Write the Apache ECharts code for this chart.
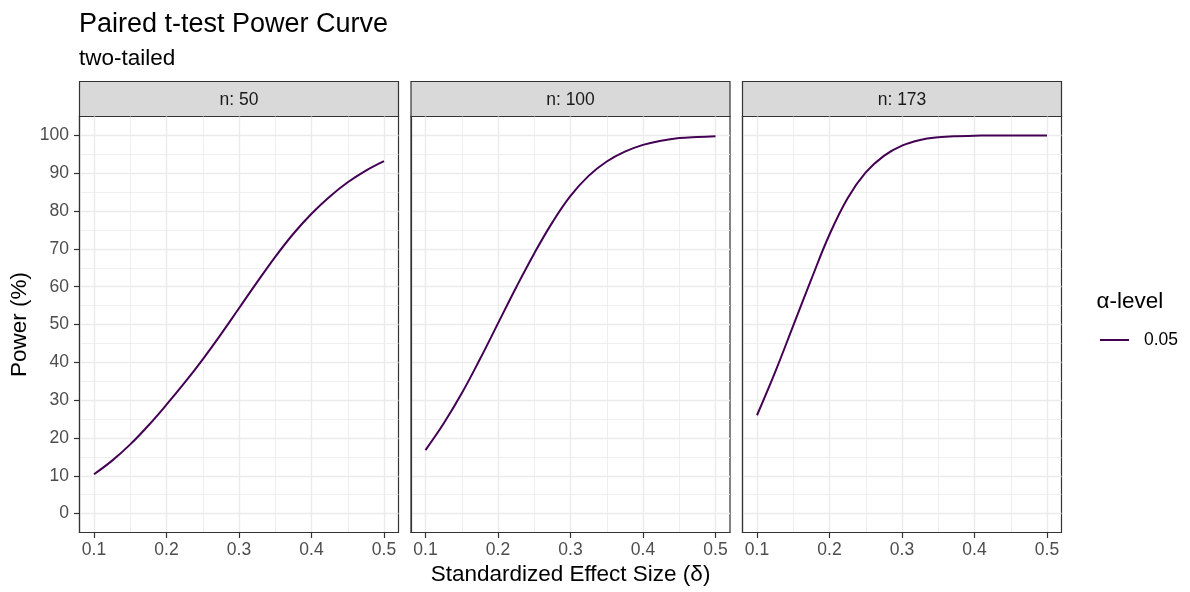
<!DOCTYPE html>
<html>
<head>
<meta charset="utf-8">
<title>Paired t-test Power Curve</title>
<script src="https://cdn.jsdelivr.net/npm/echarts@6/dist/echarts.min.js"></script>
<style>
  html, body { margin: 0; padding: 0; background: #fff; }
  #main { width: 1190px; height: 592px; }
</style>
</head>
<body>
<div id="main"></div>
<script>
// values
const effectSize = [0.1, 0.125, 0.15, 0.175, 0.2, 0.225, 0.25, 0.275, 0.3,
                    0.325, 0.35, 0.375, 0.4, 0.425, 0.45, 0.475, 0.5];
const panelLabels = ['n: 50', 'n: 100', 'n: 173'];
const power_n50  = [10.4, 14.0, 18.3, 23.3, 28.8, 34.6, 40.8, 47.4, 54.3,
                    61.2, 67.9, 74.0, 79.3, 83.8, 87.6, 90.7, 93.2];
const power_n100 = [16.8, 23.8, 31.8, 40.8, 50.3, 59.8, 68.8, 77.0, 84.0,
                    89.3, 93.1, 95.7, 97.5, 98.6, 99.3, 99.6, 99.8];
const power_n173 = [26.0, 37.4, 49.7, 62.0, 73.8, 83.4, 90.2, 94.6, 97.3,
                    98.8, 99.5, 99.8, 99.9, 100, 100, 100, 100];
const xTicks = [0.1, 0.2, 0.3, 0.4, 0.5];
const xMinor = [0.15, 0.25, 0.35, 0.45];
const yTicks = [0, 10, 20, 30, 40, 50, 60, 70, 80, 90, 100];
const yMinor = [5, 15, 25, 35, 45, 55, 65, 75, 85, 95];
const alphaLevel = '0.05';

const powers = [power_n50, power_n100, power_n173];

const FONT = '"Liberation Sans", Arial, sans-serif';
const LINE = '#440154';
const panelLeft = [79.5, 411, 742.5];
const panelW = 319, panelTop = 116.5, panelH = 416;
const stripTop = 81.5;

const chart = echarts.init(document.getElementById('main'));

const grid = [], xAxis = [], yAxis = [], series = [], graphic = [];

panelLeft.forEach((left, i) => {
  grid.push({
    left: left, top: panelTop, width: panelW, height: panelH,
    containLabel: false, outerBoundsMode: 'none',
    show: true, backgroundColor: '#fff', borderColor: '#333333', borderWidth: 1.2
  });

  // major x axis (visible)
  xAxis.push({
    type: 'value', gridIndex: i, min: 0.08, max: 0.52, position: 'bottom',
    axisLine: { show: true, onZero: false, lineStyle: { color: '#333333', width: 1.2 } },
    axisTick: { show: true, customValues: xTicks, length: 5.5, lineStyle: { color: '#333333', width: 1.2 } },
    axisLabel: {
      customValues: xTicks, margin: 9, color: '#4D4D4D', fontSize: 17.5, fontFamily: FONT,
      formatter: v => v.toFixed(1)
    },
    splitLine: { show: true, lineStyle: { color: '#EBEBEB', width: 1.4 } }
  });
  // minor x gridlines
  xAxis.push({
    type: 'value', gridIndex: i, min: 0.08, max: 0.52, position: 'top',
    axisLine: { show: false }, axisLabel: { show: false },
    axisTick: { show: false, customValues: xMinor },
    splitLine: { show: true, lineStyle: { color: '#EBEBEB', width: 0.8 } }
  });

  yAxis.push({
    type: 'value', gridIndex: i, min: -5, max: 105, position: 'left',
    axisLine: { show: true, onZero: false, lineStyle: { color: '#333333', width: 1.2 } },
    axisTick: { show: i === 0, customValues: yTicks, length: 5.5, lineStyle: { color: '#333333', width: 1.2 } },
    axisLabel: {
      show: i === 0, customValues: yTicks, margin: 10.5, color: '#4D4D4D',
      fontSize: 17.5, fontFamily: FONT
    },
    splitLine: { show: true, lineStyle: { color: '#EBEBEB', width: 1.4 } }
  });
  yAxis.push({
    type: 'value', gridIndex: i, min: -5, max: 105, position: 'right',
    axisLine: { show: false }, axisLabel: { show: false },
    axisTick: { show: false, customValues: yMinor },
    splitLine: { show: true, lineStyle: { color: '#EBEBEB', width: 0.8 } }
  });

  series.push({
    name: alphaLevel, type: 'line', xAxisIndex: i * 2, yAxisIndex: i * 2,
    data: effectSize.map((x, j) => [x, powers[i][j]]),
    symbol: 'none', showSymbol: false, smooth: 0.4, z: 5, silent: true,
    lineStyle: { color: LINE, width: 2 }, itemStyle: { color: LINE }
  });

  // facet strip
  graphic.push({
    type: 'rect', silent: true,
    shape: { x: left, y: stripTop, width: panelW, height: panelTop - stripTop },
    style: { fill: '#D9D9D9', stroke: '#333333', lineWidth: 1.2 }
  });
  graphic.push({
    type: 'text', silent: true, x: left + panelW / 2, y: (stripTop + panelTop) / 2 + 1,
    style: { text: panelLabels[i], font: '17.5px ' + FONT, fill: '#1A1A1A', align: 'center', verticalAlign: 'middle' }
  });
});

graphic.push(
  { type: 'text', silent: true, x: 79, y: 25,
    style: { text: 'Paired t-test Power Curve', font: '27px ' + FONT, fill: '#000', align: 'left', verticalAlign: 'middle' } },
  { type: 'text', silent: true, x: 79, y: 58.5,
    style: { text: 'two-tailed', font: '22.5px ' + FONT, fill: '#000', align: 'left', verticalAlign: 'middle' } },
  { type: 'text', silent: true, x: 570.5, y: 575,
    style: { text: 'Standardized Effect Size (\u03b4)', font: '22.5px ' + FONT, fill: '#000', align: 'center', verticalAlign: 'middle' } },
  { type: 'text', silent: true, x: 20, y: 324.5, rotation: Math.PI / 2,
    style: { text: 'Power (%)', font: '22.5px ' + FONT, fill: '#000', align: 'center', verticalAlign: 'middle' } },
  { type: 'text', silent: true, x: 1096.5, y: 302,
    style: { text: '\u03b1-level', font: '22.5px ' + FONT, fill: '#000', align: 'left', verticalAlign: 'middle' } }
);

chart.setOption({
  animation: false,
  backgroundColor: '#fff',
  grid: grid,
  xAxis: xAxis,
  yAxis: yAxis,
  series: series,
  legend: {
    data: [{ name: alphaLevel, icon: 'rect' }], left: 1100, top: 331, orient: 'vertical',
    padding: 0, itemWidth: 29, itemHeight: 2, selectedMode: false,
    itemStyle: { color: LINE },
    textStyle: { fontSize: 17.5, fontFamily: FONT, color: '#000', padding: [0, 0, 0, 10] }
  },
  graphic: graphic
});
</script>
</body>
</html>
